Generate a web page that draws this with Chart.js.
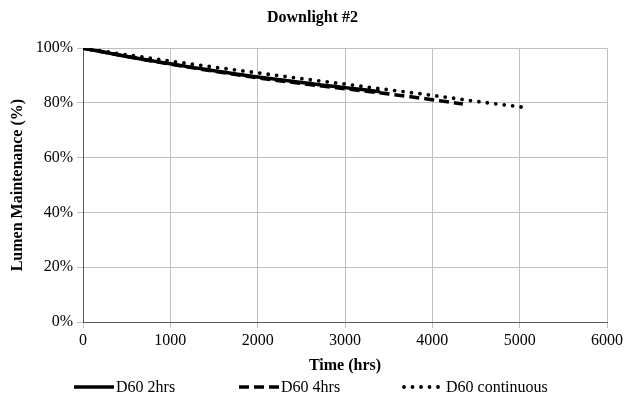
<!DOCTYPE html>
<html>
<head>
<meta charset="utf-8">
<script src="https://cdn.jsdelivr.net/npm/chart.js@4/dist/chart.umd.min.js"></script>
<style>
  html, body { margin: 0; padding: 0; background: #fff; }
  #wrap { width: 625px; height: 401px; }
</style>
</head>
<body>
<div id="wrap"><canvas id="lumen"></canvas></div>
<script>
// Lumen maintenance readings, hours vs percent of initial output
var hrs2 = [0, 250, 500, 750, 1000, 1250, 1500, 1750, 2000, 2250, 2500, 2750, 3000, 3250, 3400];
var lm2 = [100, 98.5, 97.0, 95.6, 94.3, 93.0, 91.8, 90.6, 89.5, 88.5, 87.5, 86.5, 85.6, 84.7, 84.1];

var hrs4 = [0, 500, 1000, 1500, 2000, 2500, 3000, 3500, 4000, 4350];
var lm4 = [100, 97.0, 94.2, 91.6, 89.2, 87.1, 85.2, 83.3, 81.2, 79.6];

var hrsCont = [0, 500, 1000, 1500, 2000, 2500, 3000, 3500, 4000, 4500, 5000, 5110];
var lmCont = [100, 97.6, 95.3, 93.1, 91.0, 88.9, 86.9, 84.8, 82.8, 80.6, 78.6, 78.1];

var seriesNames = ['D60 2hrs', 'D60 4hrs', 'D60 continuous'];

function pts(xs, ys) {
  return xs.map(function (x, i) { return { x: x, y: ys[i] }; });
}

var serif = 'Liberation Serif, "Times New Roman", serif';

// legend drawn as line samples under the x axis title
var lineKey = {
  id: 'lineKey',
  afterDraw: function (chart, args, opts) {
    var ctx = chart.ctx;
    ctx.save();
    ctx.font = '16px ' + serif;
    ctx.textBaseline = 'middle';
    chart.data.datasets.forEach(function (ds, i) {
      var x = opts.x + i * opts.step;
      ctx.beginPath();
      ctx.setLineDash(ds.borderDash || []);
      ctx.lineCap = ds.borderCapStyle || 'butt';
      ctx.lineWidth = ds.borderWidth;
      ctx.strokeStyle = ds.borderColor;
      ctx.moveTo(x, opts.y);
      ctx.lineTo(x + opts.sample, opts.y);
      ctx.stroke();
      ctx.setLineDash([]);
      ctx.fillStyle = '#000';
      ctx.fillText(ds.label, x + opts.sample + 2, opts.y + 1);
    });
    ctx.restore();
  }
};

var chart = new Chart(document.getElementById('lumen'), {
  type: 'line',
  data: {
    datasets: [{
      label: seriesNames[0],
      data: pts(hrs2, lm2),
      borderColor: '#000',
      borderWidth: 3.5,
      pointRadius: 0,
      cubicInterpolationMode: 'monotone'
    }, {
      label: seriesNames[1],
      data: pts(hrs4, lm4),
      borderColor: '#000',
      borderWidth: 3.5,
      borderDash: [10, 5],
      pointRadius: 0,
      cubicInterpolationMode: 'monotone'
    }, {
      label: seriesNames[2],
      data: pts(hrsCont, lmCont),
      borderColor: '#000',
      borderWidth: 3.8,
      borderDash: [0, 8.5],
      borderCapStyle: 'round',
      pointRadius: 0,
      cubicInterpolationMode: 'monotone'
    }]
  },
  options: {
    responsive: true,
    maintainAspectRatio: false,
    animation: false,
    layout: { padding: { left: 0, right: 0, top: 0, bottom: 26 } },
    plugins: {
      legend: { display: false },
      tooltip: { enabled: false },
      title: {
        display: true,
        text: 'Downlight #2',
        color: '#000',
        font: { family: serif, size: 16, weight: 'bold' },
        padding: { top: 8, bottom: 21 }
      },
      lineKey: { x: 74, step: 165, y: 387, sample: 40 }
    },
    scales: {
      x: {
        type: 'linear',
        min: 0,
        max: 6000,
        afterFit: function (s) {
          s.height = 53;
          s.paddingRight = 18;
        },
        ticks: {
          stepSize: 1000,
          color: '#000',
          padding: 3,
          maxRotation: 0,
          font: { family: serif, size: 16 },
          callback: function (v) { return String(v); }
        },
        grid: { color: '#bfbfbf', tickLength: 6 },
        border: { color: '#595959' },
        title: {
          display: true,
          text: 'Time (hrs)',
          color: '#000',
          font: { family: serif, size: 16, weight: 'bold' },
          padding: { top: 0, bottom: 0 }
        }
      },
      y: {
        min: 0,
        max: 100,
        afterFit: function (s) { s.width = 83; },
        ticks: {
          stepSize: 20,
          color: '#000',
          padding: 4,
          font: { family: serif, size: 16 },
          callback: function (v) { return v + '%'; }
        },
        grid: { color: '#bfbfbf', tickLength: 6 },
        border: { color: '#595959' },
        title: {
          display: true,
          text: 'Lumen Maintenance (%)',
          color: '#000',
          font: { family: serif, size: 16, weight: 'bold' },
          padding: { top: 8, bottom: 0 }
        }
      }
    }
  },
  plugins: [lineKey]
});
</script>
</body>
</html>
